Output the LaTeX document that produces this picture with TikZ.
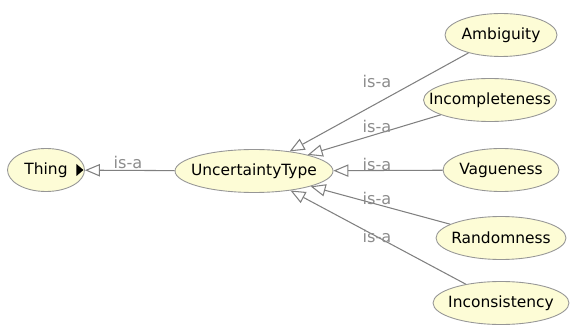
\documentclass[tikz,border=0pt]{standalone}
\usepackage{fontspec}
\setmainfont{DejaVu Sans}
\usepackage{xcolor}
\usetikzlibrary{shapes.geometric,arrows.meta}

\definecolor{clsfill}{RGB}{253,252,214}
\definecolor{clsline}{RGB}{150,150,150}
\definecolor{isaline}{RGB}{128,128,128}
\definecolor{isatext}{RGB}{140,140,140}

\begin{document}
\begin{tikzpicture}[x=0.02cm,y=-0.02cm,font=\fontsize{8.8}{10}\selectfont]
    \tikzstyle{cls}=[ellipse,draw=clsline,fill=clsfill,line width=0.5pt,minimum height=0.86cm,inner sep=0pt]
    \tikzstyle{isa}=[draw=isaline,line width=0.6pt,-{Triangle[open,length=8.5pt,width=7pt]}]
    \tikzstyle{lbl}=[text=isatext,font=\fontsize{9.2}{10}\selectfont,inner sep=0pt]

    \useasboundingbox (0,0) rectangle (573,327);

    % Classes
    \node [cls, minimum width=1.54cm, label=center:Thing] (thing) at (46,170) {};
    \node [cls, minimum width=3.16cm, label=center:UncertaintyType] (utype) at (254,171) {};

    \node [cls, minimum width=2.24cm, label=center:Ambiguity] (ambig) at (501,35) {};
    \node [cls, minimum width=2.66cm, label=center:Incompleteness] (incompl) at (490,100) {};
    \node [cls, minimum width=2.32cm, label=center:Vagueness] (vague) at (501,170) {};
    \node [cls, minimum width=2.60cm, label=center:Randomness] (random) at (501,238) {};
    \node [cls, minimum width=2.72cm, label=center:Inconsistency] (inconsist) at (501,303) {};

    % expand marker
    \fill (thing.east) ++(-8.5,-6) -- ++(7,6) -- ++(-7,6) -- cycle;

    % is-a links
    \draw [isa] (utype) -- (thing);
    \draw [isa] (ambig) -- (utype);
    \draw [isa] (incompl) -- (utype);
    \draw [isa] (vague) -- (utype);
    \draw [isa] (random) -- (utype);
    \draw [isa] (inconsist) -- (utype);

    \node [lbl] (l0) at (128,162) {is-a};
    \node [lbl] (l1) at (377,81) {is-a};
    \node [lbl] (l2) at (377,126) {is-a};
    \node [lbl] (l3) at (377,164) {is-a};
    \node [lbl] (l4) at (377,198) {is-a};
    \node [lbl] (l5) at (377,236) {is-a};
\end{tikzpicture}
\end{document}
